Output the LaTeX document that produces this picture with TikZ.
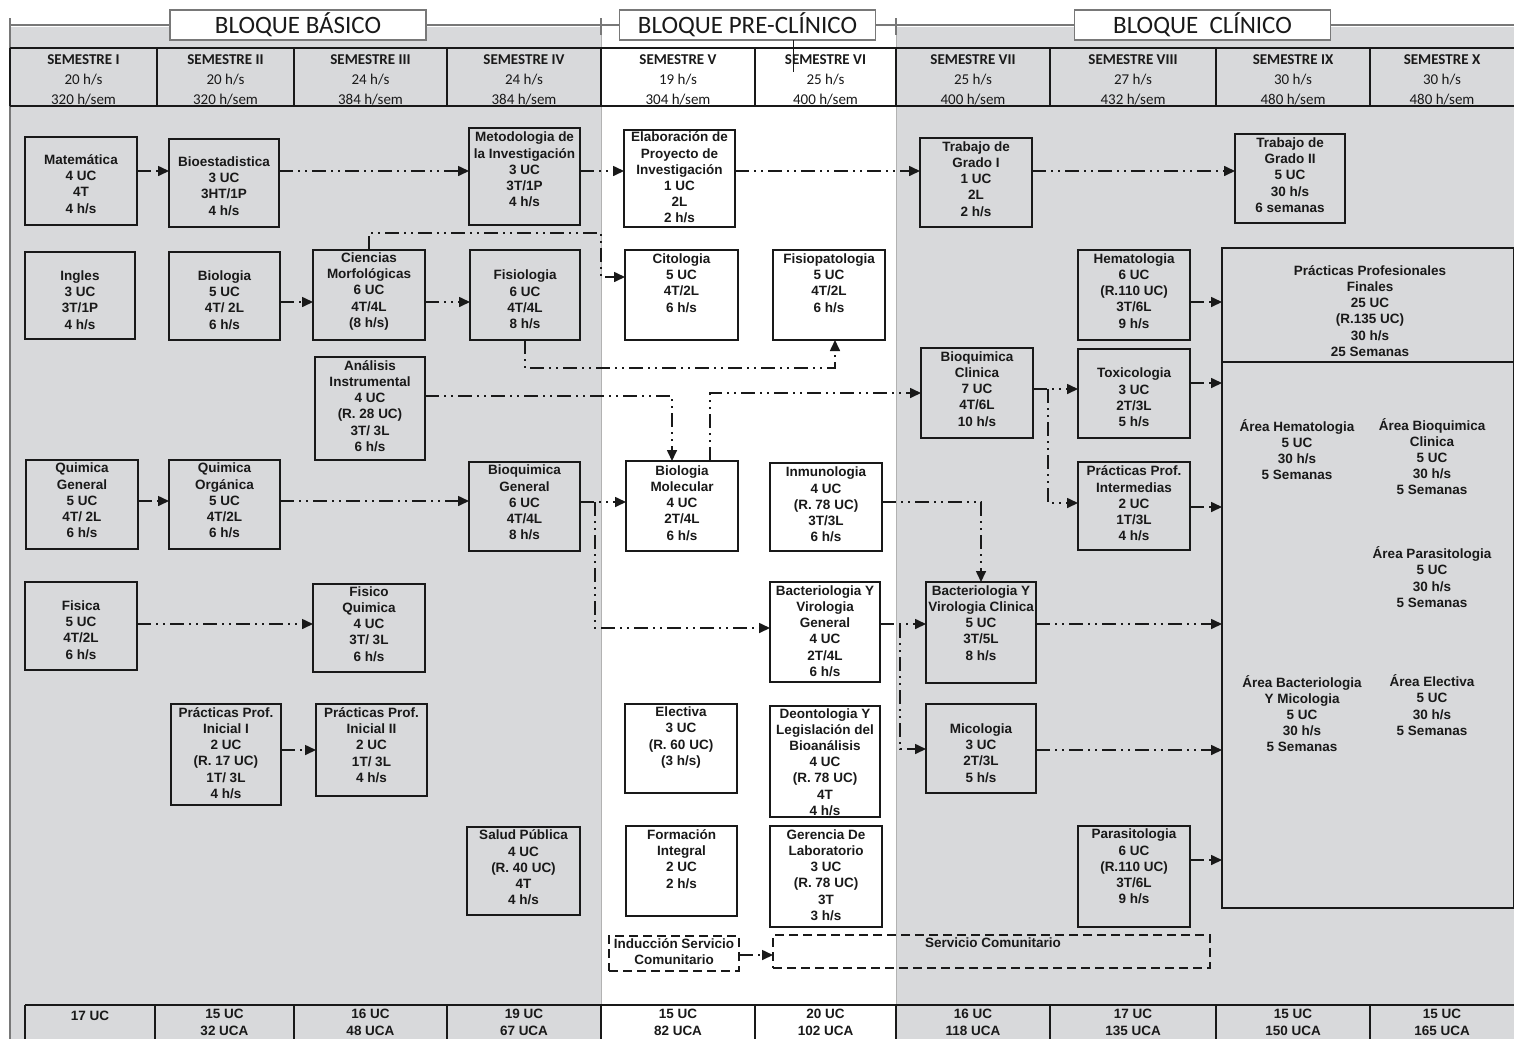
\documentclass[tikz,border=0pt]{standalone}
\usepackage{fontspec}
\setmainfont{Liberation Sans}
\newfontfamily\carl{Carlito}
\usetikzlibrary{arrows.meta}
\definecolor{bgg}{RGB}{216,217,219}
\definecolor{ink}{RGB}{25,25,25}
\definecolor{hdr}{RGB}{120,120,120}
\tikzset{
  box/.style={draw=ink, line width=1.6pt, inner sep=0pt, outer sep=0pt},
  dbox/.style={draw=ink, line width=1.6pt, inner sep=0pt, outer sep=0pt, dash pattern=on 9pt off 5pt},
  txt/.style={align=center, font=\fontsize{13.5}{16.2}\selectfont\bfseries, inner sep=0pt, text=ink},
  conn/.style={draw=ink, line width=1.6pt, dash pattern=on 14pt off 5pt on 2pt off 5pt on 2pt off 5pt, -{Triangle[length=11pt,width=10pt]}},
  hbox/.style={draw=hdr, fill=white, line width=1.2pt, minimum width=256pt, minimum height=30pt, inner sep=0pt, font=\carl\fontsize{25}{27}\selectfont, text=ink},
  semtxt/.style={align=center, inner sep=0pt, font=\carl\fontsize{15}{20}\selectfont, text=ink},
  sumtxt/.style={align=center, inner sep=0pt, font=\fontsize{13.5}{17}\selectfont\bfseries, text=ink},
  tline/.style={draw=ink, line width=1.6pt},
}
\newcommand\cbx[7]{%
  \node[box, minimum width={(#4)-(#2)}, minimum height={(#5)-(#3)}] (#1) at ({((#2)+(#4))/2},{((#3)+(#5))/2}) {};
  \node[txt] (#1t) at ({((#2)+(#4))/2},#6) {#7};}
\newcommand\semcol[5]{\node[semtxt] (#1) at (#2,80) {{\bfseries #3}\\#4\\#5};}
\newcommand\sumcell[4]{\node[sumtxt] (#1) at (#2,1022.5) {#3\\#4};}
\begin{document}
\begin{tikzpicture}[x=1pt,y=-1pt]
\useasboundingbox (0,0) rectangle (1514,1039);
% backgrounds
\fill[bgg] (10,27) rectangle (601,1039);
\fill[bgg] (896,27) rectangle (1514,1039);
\draw[gray!60, line width=0.8pt] (601,27) -- (601,1005);
\draw[gray!60, line width=0.8pt] (896,27) -- (896,1005);
\draw[hdr, line width=1.2pt] (10,25) -- (1514,25);
\draw[hdr, line width=1.2pt] (10,18) -- (10,1039);
\draw[hdr, line width=1.2pt] (601,18) -- (601,35);
\draw[hdr, line width=1.2pt] (896,18) -- (896,35);
% block titles
\node[hbox] (hb1) at (298,25) {BLOQUE BÁSICO};
\node[hbox] (hb2) at (747.5,25) {BLOQUE PRE-CLÍNICO};
\node[hbox] (hb3) at (1202.5,25) {BLOQUE\ \ CLÍNICO};
% semester table
\draw[tline] (10,48) -- (1514,48);
\draw[tline] (10,106) -- (1514,106);
\foreach \xx in {10,157,294,447,601,755,896,1050,1216,1370}{\draw[tline] (\xx,48) -- (\xx,106);}
\draw[ink, line width=1pt] (793,40) -- (793,72);
\semcol{s1}{83.5}{SEMESTRE I}{20 h/s}{320 h/sem}
\semcol{s2}{225.5}{SEMESTRE II}{20 h/s}{320 h/sem}
\semcol{s3}{370.5}{SEMESTRE III}{24 h/s}{384 h/sem}
\semcol{s4}{524}{SEMESTRE IV}{24 h/s}{384 h/sem}
\semcol{s5}{678}{SEMESTRE V}{19 h/s}{304 h/sem}
\semcol{s6}{825.5}{SEMESTRE VI}{25 h/s}{400 h/sem}
\semcol{s7}{973}{SEMESTRE VII}{25 h/s}{400 h/sem}
\semcol{s8}{1133}{SEMESTRE VIII}{27 h/s}{432 h/sem}
\semcol{s9}{1293}{SEMESTRE IX}{30 h/s}{480 h/sem}
\semcol{s10}{1442}{SEMESTRE X}{30 h/s}{480 h/sem}
% bottom table
\draw[tline] (25,1005) -- (1514,1005);
\foreach \xx in {25,155,294,447,601,755,896,1050,1216,1370}{\draw[tline] (\xx,1005) -- (\xx,1039);}
\node[sumtxt] (b1) at (90,1016) {17 UC};
\sumcell{b2}{224.5}{15 UC}{32 UCA}
\sumcell{b3}{370.5}{16 UC}{48 UCA}
\sumcell{b4}{524}{19 UC}{67 UCA}
\sumcell{b5}{678}{15 UC}{82 UCA}
\sumcell{b6}{825.5}{20 UC}{102 UCA}
\sumcell{b7}{973}{16 UC}{118 UCA}
\sumcell{b8}{1133}{17 UC}{135 UCA}
\sumcell{b9}{1293}{15 UC}{150 UCA}
\sumcell{b10}{1442}{15 UC}{165 UCA}
% boxes
\cbx{mat}{25}{137}{137}{225}{184}{Matemática\\4 UC\\4T\\4 h/s}
\cbx{bioe}{169}{139}{279}{227}{186}{Bioestadistica\\3 UC\\3HT/1P\\4 h/s}
\cbx{met}{469}{128}{580}{225}{169.5}{Metodologia de\\la Investigación\\3 UC\\3T/1P\\4 h/s}
\cbx{elab}{624}{130}{735}{227}{177.5}{Elaboración de\\Proyecto de\\Investigación\\1 UC\\2L\\2 h/s}
\cbx{tg1}{920}{138}{1032}{227}{179}{Trabajo de\\Grado I\\1 UC\\2L\\2 h/s}
\cbx{tg2}{1235}{134}{1345}{223}{175}{Trabajo de\\Grado II\\5 UC\\30 h/s\\6 semanas}
\cbx{ing}{25}{252}{135}{339}{300}{Ingles\\3 UC\\3T/1P\\4 h/s}
\cbx{biol}{169}{252}{280}{340}{300}{Biologia\\5 UC\\4T/ 2L\\6 h/s}
\cbx{cmorf}{313}{250}{425}{340}{291.5}{Ciencias\\Morfológicas\\6 UC\\4T/4L\\(8 h/s)}
\cbx{fisio}{470}{250}{580}{340}{299.5}{Fisiologia\\6 UC\\4T/4L\\8 h/s}
\cbx{cito}{625}{250}{738}{340}{283}{Citologia\\5 UC\\4T/2L\\6 h/s}
\cbx{fpat}{773}{250}{885}{340}{283}{Fisiopatologia\\5 UC\\4T/2L\\6 h/s}
\cbx{hema}{1078}{250}{1190}{340}{291}{Hematologia\\6 UC\\(R.110 UC)\\3T/6L\\9 h/s}
\cbx{anal}{315}{357}{425}{460}{406}{Análisis\\Instrumental\\4 UC\\(R. 28 UC)\\3T/ 3L\\6 h/s}
\cbx{bqc}{921}{348}{1033}{438}{389}{Bioquimica\\Clinica\\7 UC\\4T/6L\\10 h/s}
\cbx{toxi}{1078}{349}{1190}{438}{397.5}{Toxicologia\\3 UC\\2T/3L\\5 h/s}
\cbx{ppint}{1078}{462}{1190}{550}{503.5}{Prácticas Prof.\\Intermedias\\2 UC\\1T/3L\\4 h/s}
\cbx{qg}{26}{460}{138}{549}{500.5}{Quimica\\General\\5 UC\\4T/ 2L\\6 h/s}
\cbx{qo}{169}{460}{280}{549}{500.5}{Quimica\\Orgánica\\5 UC\\4T/2L\\6 h/s}
\cbx{bqg}{469}{462}{580}{551}{502.5}{Bioquimica\\General\\6 UC\\4T/4L\\8 h/s}
\cbx{biomol}{626}{461}{738}{551}{503}{Biologia\\Molecular\\4 UC\\2T/4L\\6 h/s}
\cbx{inmu}{770}{463}{882}{551}{504.5}{Inmunologia\\4 UC\\(R. 78 UC)\\3T/3L\\6 h/s}
\cbx{fis}{25}{582}{137}{670}{630}{Fisica\\5 UC\\4T/2L\\6 h/s}
\cbx{fq}{313}{584}{425}{672}{624}{Fisico\\Quimica\\4 UC\\3T/ 3L\\6 h/s}
\cbx{bvg}{770}{582}{880}{682}{631}{Bacteriologia Y\\Virologia\\General\\4 UC\\2T/4L\\6 h/s}
\cbx{bvc}{926}{582}{1036}{683}{623}{Bacteriologia Y\\Virologia Clinica\\5 UC\\3T/5L\\8 h/s}
\cbx{ppi1}{171}{704}{281}{805}{753}{Prácticas Prof.\\Inicial I\\2 UC\\(R. 17 UC)\\1T/ 3L\\4 h/s}
\cbx{ppi2}{316}{704}{427}{796}{745}{Prácticas Prof.\\Inicial II\\2 UC\\1T/ 3L\\4 h/s}
\cbx{elec}{625}{704}{737}{793}{737.5}{Electiva\\3 UC\\(R. 60 UC)\\(3 h/s)}
\cbx{deon}{770}{706}{880}{817}{762}{Deontologia Y\\Legislación del\\Bioanálisis\\4 UC\\(R. 78 UC)\\4T\\4 h/s}
\cbx{mico}{926}{704}{1036}{793}{753}{Micologia\\3 UC\\2T/3L\\5 h/s}
\cbx{salud}{467}{827}{580}{915}{867.5}{Salud Pública\\4 UC\\(R. 40 UC)\\4T\\4 h/s}
\cbx{form}{626}{826}{737}{916}{859}{Formación\\Integral\\2 UC\\2 h/s}
\cbx{ger}{770}{826}{882}{927}{875}{Gerencia De\\Laboratorio\\3 UC\\(R. 78 UC)\\3T\\3 h/s}
\cbx{paras}{1078}{826}{1190}{927}{866.5}{Parasitologia\\6 UC\\(R.110 UC)\\3T/6L\\9 h/s}
% practicas finales
\node[box, minimum width=292pt, minimum height=660pt] (ppf) at (1368,578) {};
\draw[tline] (ppf.west |- 0,362) -- (ppf.east |- 0,362);
\node[txt] (ppft) at (1370,311) {Prácticas Profesionales\\Finales\\25 UC\\(R.135 UC)\\30 h/s\\25 Semanas};
\node[txt] (aHem) at (1297,449.5) {Área Hematologia\\5 UC\\30 h/s\\5 Semanas};
\node[txt] (aBqc) at (1432,456.5) {Área Bioquimica\\Clinica\\5 UC\\30 h/s\\5 Semanas};
\node[txt] (aPar) at (1432,577) {Área Parasitologia\\5 UC\\30 h/s\\5 Semanas};
\node[txt] (aBac) at (1302,713.5) {Área Bacteriologia\\Y Micologia\\5 UC\\30 h/s\\5 Semanas};
\node[txt] (aEle) at (1432,705) {Área Electiva\\5 UC\\30 h/s\\5 Semanas};
% servicio comunitario
\node[dbox, minimum width=130pt, minimum height=35pt] (ind) at (674,953.5) {};
\node[txt, font=\fontsize{13.5}{16}\selectfont\bfseries] (indt) at (674,952) {Inducción Servicio\\Comunitario};
\node[dbox, minimum width=437pt, minimum height=33pt] (serv) at (991.5,951.5) {};
\node[txt] (servt) at (993,943) {Servicio Comunitario};
% connectors
\coordinate (jA) at (595,502);
\coordinate (jB) at (1048,389);
\coordinate (jC) at (900,624);
\draw[conn] (mat.east |- 0,171) -- (bioe.west |- 0,171);
\draw[conn] (bioe.east |- 0,171) -- (met.west |- 0,171);
\draw[conn] (met.east |- 0,171) -- (elab.west |- 0,171);
\draw[conn] (elab.east |- 0,171) -- (tg1.west |- 0,171);
\draw[conn] (tg1.east |- 0,171) -- (tg2.west |- 0,171);
\draw[conn] (biol.east |- 0,302) -- (cmorf.west |- 0,302);
\draw[conn] (cmorf.east |- 0,302) -- (fisio.west |- 0,302);
\draw[conn] (cmorf.north) -- (cmorf.north |- 0,233) -- (601,233) -- (601,277) -- (cito.west |- 0,277);
\draw[conn] (fisio.south) -- (fisio.south |- 0,368) -- ([xshift=6pt]fpat.south |- 0,368) -- ([xshift=6pt]fpat.south);
\draw[conn] (hema.east |- 0,302) -- (ppf.west |- 0,302);
\draw[conn] (anal.east |- 0,396) -- ([xshift=-10pt]biomol.north |- 0,396) -- ([xshift=-10pt]biomol.north);
\draw[conn] ([xshift=28pt]biomol.north) -- ([xshift=28pt]biomol.north |- 0,393) -- (bqc.west |- 0,393);
\draw[conn] (bqc.east |- 0,389) -- (toxi.west |- 0,389);
\draw[conn] (jB) -- (jB |- 0,503) -- (ppint.west |- 0,503);
\draw[conn] (toxi.east |- 0,383) -- (ppf.west |- 0,383);
\draw[conn] (ppint.east |- 0,507) -- (ppf.west |- 0,507);
\draw[conn] (qg.east |- 0,501) -- (qo.west |- 0,501);
\draw[conn] (qo.east |- 0,501) -- (bqg.west |- 0,501);
\draw[conn] (bqg.east |- jA) -- (jA) -- (biomol.west |- jA);
\draw[conn] (jA) -- (jA |- 0,628) -- (bvg.west |- 0,628);
\draw[conn] (inmu.east |- 0,502) -- (bvc.north |- 0,502) -- (bvc.north);
\draw[conn] (fis.east |- 0,624) -- (fq.west |- 0,624);
\draw[conn] (bvg.east |- jC) -- (bvc.west |- jC);
\draw[conn] (jC) -- (jC |- 0,749) -- (mico.west |- 0,749);
\draw[conn] (bvc.east |- 0,624) -- (ppf.west |- 0,624);
\draw[conn] (mico.east |- 0,750) -- (ppf.west |- 0,750);
\draw[conn] (paras.east |- 0,860) -- (ppf.west |- 0,860);
\draw[conn] (ppi1.east |- 0,750) -- (ppi2.west |- 0,750);
\draw[conn] (ind.east |- 0,955) -- (serv.west |- 0,955);
\end{tikzpicture}
\end{document}
